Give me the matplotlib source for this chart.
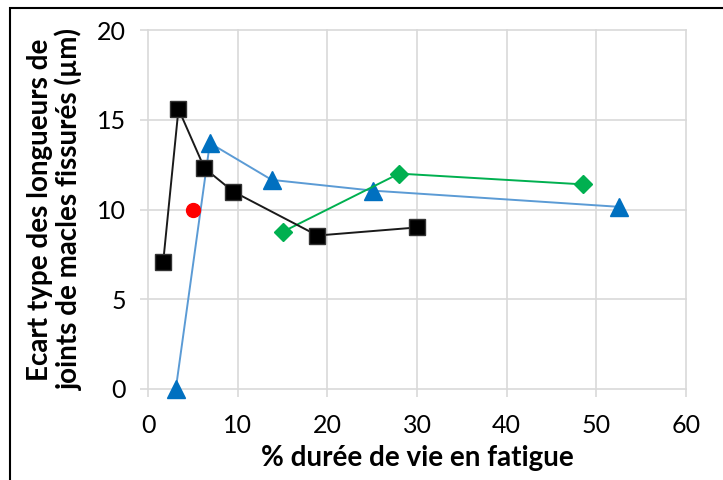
import matplotlib.pyplot as plt
from matplotlib.patches import Rectangle

plt.rcParams['font.family'] = ['Lato', 'DejaVu Sans']

# data
x_black = [1.7, 3.4, 6.3, 9.5, 18.9, 30.0]
y_black = [7.1, 15.6, 12.3, 11.0, 8.55, 9.0]

x_blue = [3.1, 6.9, 13.8, 25.1, 52.5]
y_blue = [0.0, 13.7, 11.65, 11.05, 10.15]

x_green = [15.0, 28.0, 48.5]
y_green = [8.75, 12.0, 11.4]

x_red = [5.0]
y_red = [10.0]

xticks = [0, 10, 20, 30, 40, 50, 60]
yticks = [0, 5, 10, 15, 20]

fig = plt.figure(figsize=(7.23, 4.80), dpi=100)
ax = fig.add_axes([148 / 723, 1 - 389 / 480, (686 - 148) / 723, (389 - 30) / 480])

grid_col = '#d9d9d9'
ax.plot(x_black, y_black, color='#1a1a1a', lw=1.4, marker='s', ms=11,
        mfc='black', mec='#333333', zorder=4, clip_on=False)
ax.plot(x_blue, y_blue, color='#5b9bd5', lw=1.4, marker='^', ms=13,
        mfc='#0070c0', mec='#0070c0', zorder=3, clip_on=False)
ax.plot(x_green, y_green, color='#00b050', lw=1.4, marker='D', ms=9.5,
        mfc='#00b050', mec='#00b050', zorder=3, clip_on=False)
ax.plot(x_red, y_red, color='red', lw=0, marker='o', ms=10, zorder=5)

ax.set_xlim(0, 60)
ax.set_ylim(0, 20)
ax.set_xticks(xticks)
ax.set_yticks(yticks)
ax.grid(True, color=grid_col, lw=1.2)
ax.set_axisbelow(True)
for s in ax.spines.values():
    s.set_visible(False)
ax.tick_params(direction='out', length=6, width=1.2, color=grid_col,
               labelsize=18)
ax.tick_params(axis='x', pad=12)
ax.tick_params(axis='y', pad=10)
for gl in ax.get_xgridlines() + ax.get_ygridlines():
    gl.set_clip_on(False)

ax.set_xlabel('% durée de vie en fatigue', fontsize=20, fontweight='bold', labelpad=6)
ax.set_ylabel('Ecart type des longueurs de\njoints de macles fissurés (µm)',
              fontsize=20, fontweight='bold', labelpad=10, linespacing=1.1)

# outer frame of the picture
fig.patches.append(Rectangle((10 / 723, -0.1), 1.2, 1 - 8 / 480 + 0.1,
                             transform=fig.transFigure, fill=False,
                             edgecolor='black', lw=1.5))

fig.savefig('out.png', dpi=100)
